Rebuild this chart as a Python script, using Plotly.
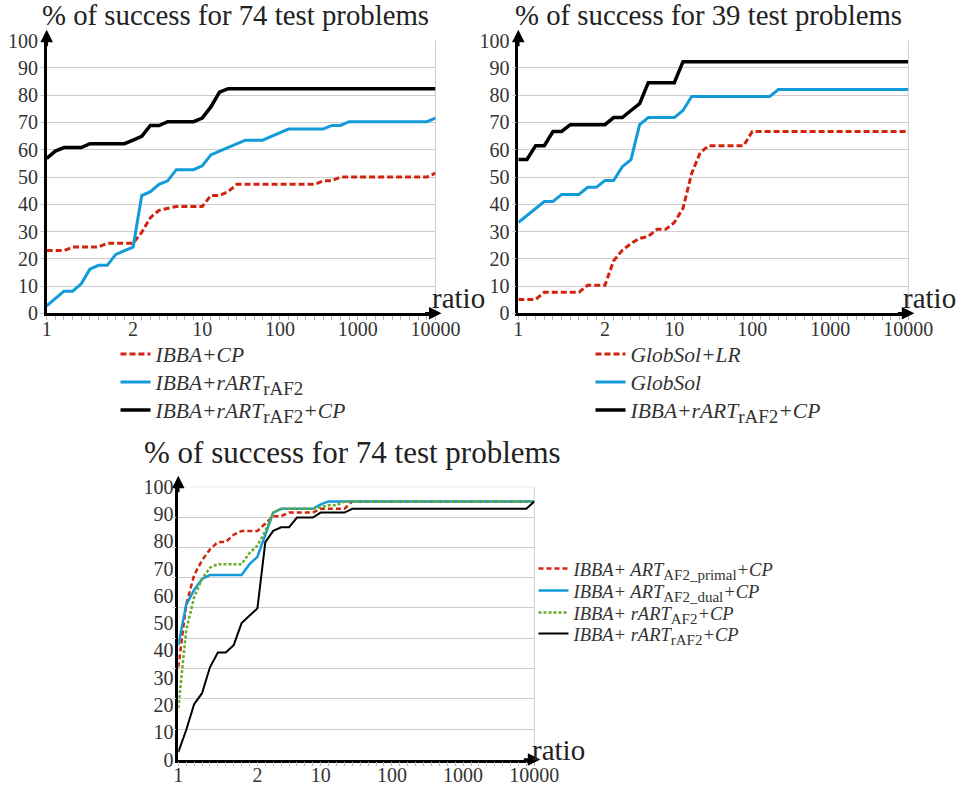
import plotly.graph_objects as go

# ---------------- data ----------------
# sample ratios (x): the axis places every sample at an equal step
RATIOS = [1.0, 1.1, 1.2, 1.3, 1.4, 1.5, 1.6, 1.7, 1.8, 1.9,
          2, 3, 4, 5, 6, 7, 8, 9,
          10, 20, 30, 40, 50, 60, 70, 80, 90,
          100, 200, 300, 400, 500, 600, 700, 800, 900,
          1000, 2000, 3000, 4000, 5000, 6000, 7000, 8000, 9000, 10000]
TICK_RATIOS = [1, 2, 10, 100, 1000, 10000]
TICK_LABELS = ["1", "2", "10", "100", "1000", "10000"]
Y_TICKS = [0, 10, 20, 30, 40, 50, 60, 70, 80, 90, 100]

# chart 1 : % of success for 74 test problems
c1_ibba_cp = [23.0, 23.0, 23.0, 24.3, 24.3, 24.3, 24.3, 25.7, 25.7, 25.7,
              25.7, 29.7, 35.1, 37.8, 38.5, 39.2, 39.2, 39.2, 39.2, 43.2,
              43.2, 44.6, 47.3, 47.3, 47.3, 47.3, 47.3, 47.3, 47.3, 47.3,
              47.3, 47.3, 48.6, 48.6, 50.0, 50.0, 50.0, 50.0, 50.0, 50.0,
              50.0, 50.0, 50.0, 50.0, 50.0, 51.4]
c1_ibba_rart = [2.7, 5.4, 8.1, 8.1, 10.8, 16.2, 17.6, 17.6, 21.6, 23.0,
                24.3, 43.2, 44.6, 47.3, 48.6, 52.7, 52.7, 52.7, 54.1, 58.1,
                59.5, 60.8, 62.2, 63.5, 63.5, 63.5, 64.9, 66.2, 67.6, 67.6,
                67.6, 67.6, 67.6, 68.9, 68.9, 70.3, 70.3, 70.3, 70.3, 70.3,
                70.3, 70.3, 70.3, 70.3, 70.3, 71.6]
c1_ibba_rart_cp = [56.8, 59.5, 60.8, 60.8, 60.8, 62.2, 62.2, 62.2, 62.2, 62.2,
                   63.5, 64.9, 68.9, 68.9, 70.3, 70.3, 70.3, 70.3, 71.6, 75.7,
                   81.1] + [82.4] * 25

# chart 2 : % of success for 39 test problems
c2_globsol_lr = [5.1, 5.1, 5.1, 7.7, 7.7, 7.7, 7.7, 7.7, 10.3, 10.3,
                 10.3, 19.3, 23.1, 25.6, 27.5, 28.2, 30.8, 30.8, 33.3, 38.5,
                 51.3, 59.0, 61.5, 61.5, 61.5, 61.5, 61.5, 66.7] + [66.7] * 18
c2_globsol = [33.3, 35.9, 38.5, 41.0, 41.0, 43.6, 43.6, 43.6, 46.2, 46.2,
              48.7, 48.7, 53.8, 56.4, 69.2, 71.8, 71.8, 71.8, 71.8, 74.4,
              79.5] + [79.5] * 9 + [82.1] * 16
c2_ibba_rart_cp = [56.4, 56.4, 61.5, 61.5, 66.7, 66.7, 69.2, 69.2, 69.2, 69.2,
                   69.2, 71.8, 71.8, 74.4, 76.9, 84.6, 84.6, 84.6, 84.6] + [92.3] * 27

# chart 3 : % of success for 74 test problems
c3_art_primal = [33.8, 56.8, 67.6, 73.0, 77.0, 79.7, 79.7, 82.4, 83.8, 83.8,
                 83.8, 86.5, 89.2, 89.2, 90.5, 90.5, 90.5, 90.5, 91.9, 91.9,
                 91.9, 91.9, 94.6] + [94.6] * 23
c3_art_dual = [41.9, 56.8, 62.2, 66.2, 67.6, 67.6, 67.6, 67.6, 67.6, 71.6,
               74.3, 82.4, 90.5, 91.9, 91.9, 91.9, 91.9, 91.9, 93.5, 94.6] + [94.6] * 26
c3_rart_af2 = [18.9, 47.3, 59.5, 66.2, 70.3, 71.6, 71.6, 71.6, 71.6, 75.7,
               78.4, 83.8, 90.5, 91.9, 91.9, 91.9, 91.9, 91.9, 92.5, 93.2,
               93.2, 94.6] + [94.6] * 24
c3_rart_raf2 = [2.7, 10.8, 20.3, 24.3, 33.8, 39.2, 39.2, 41.9, 50.0, 52.7,
                55.4, 79.7, 83.8, 85.1, 85.1, 88.7, 88.7, 88.7, 90.5, 90.5,
                90.5, 90.5, 91.9] + [91.9] * 22 + [94.6]

TITLES = ["% of success for 74 test problems",
          "% of success for 39 test problems",
          "% of success for 74 test problems"]

# ---------------- style ----------------
W, H = 963, 787
SERIF = "Liberation Serif"
RED, BLUE, GREEN, BLACK = "#d2230f", "#139ad8", "#6aab2b", "#000000"
GRID = "#cdcdcd"
TXT = "#333333"

cats = [f"{r:g}" for r in RATIOS]
tick_cats = [f"{r:g}" for r in TICK_RATIOS]
tick_text = [TICK_LABELS[tick_cats.index(c)] if c in tick_cats else "" for c in cats]


def px_x(p):
    return p / W


def px_y(p):
    return 1 - p / H


def sub(t, size):
    return f"<sub><span style='font-size:{size}px'>{t}</span></sub>"


# plot areas in pixels: (left, right, top(100), bottom(0))
AREAS = [(46.7, 435.5, 40.7, 313.3),
         (518.3, 908.3, 40.7, 313.3),
         (178.3, 534.3, 486.7, 759.5)]

S1, S3 = 19, 15
series = [
    (1, [
        (c1_ibba_cp, "<i>IBBA+CP</i>", RED, 3, "6px,3px"),
        (c1_ibba_rart, "<i>IBBA+rART</i>" + sub("rAF2", S1), BLUE, 3, "solid"),
        (c1_ibba_rart_cp, "<i>IBBA+rART</i>" + sub("rAF2", S1) + "<i>+CP</i>", BLACK, 3.5, "solid"),
    ]),
    (2, [
        (c2_globsol_lr, "<i>GlobSol+LR</i>", RED, 3, "6px,3px"),
        (c2_globsol, "<i>GlobSol</i>", BLUE, 3, "solid"),
        (c2_ibba_rart_cp, "<i>IBBA+rART</i>" + sub("rAF2", S1) + "<i>+CP</i>", BLACK, 3.5, "solid"),
    ]),
    (3, [
        (c3_art_primal, "<i>IBBA+ ART</i>" + sub("AF2_primal", S3) + "<i>+CP</i>", RED, 2.5, "5px,3px"),
        (c3_art_dual, "<i>IBBA+ ART</i>" + sub("AF2_dual", S3) + "<i>+CP</i>", BLUE, 2.5, "solid"),
        (c3_rart_af2, "<i>IBBA+ rART</i>" + sub("AF2", S3) + "<i>+CP</i>", GREEN, 2.5, "3px,2px"),
        (c3_rart_raf2, "<i>IBBA+ rART</i>" + sub("rAF2", S3) + "<i>+CP</i>", BLACK, 2, "solid"),
    ]),
]

# legend entry positions: (text start x, centre y) in pixels, and font size
LEG_POS = {1: ([(157, 354), (157, 382), (157, 410)], 21.5),
           2: ([(632, 354), (632, 382), (632, 410)], 21.5),
           3: ([(575, 569), (575, 591), (575, 613), (575, 634)], 18.5)}

fig = go.Figure()
layout = dict(
    width=W, height=H, autosize=False,
    margin=dict(l=0, r=0, t=0, b=0, pad=0, autoexpand=False),
    paper_bgcolor="white", plot_bgcolor="white",
    font=dict(family=SERIF, color=TXT, size=18),
    shapes=[], annotations=[],
)

leg_n = 0
for k, items in series:
    sx = "" if k == 1 else str(k)
    positions, fsize = LEG_POS[k]
    for j, (vals, name, col, w, dash) in enumerate(items):
        leg_n += 1
        lid = "legend" if leg_n == 1 else f"legend{leg_n}"
        fig.add_trace(go.Scatter(
            x=cats, y=vals, mode="lines", name=name,
            line=dict(color=col, width=w, dash=dash),
            xaxis="x" + sx, yaxis="y" + sx, legend=lid,
            showlegend=True, hoverinfo="skip"))
        tx, ty = positions[j]
        layout[lid] = dict(x=px_x(tx - 41.5), y=px_y(ty), xanchor="left", yanchor="middle",
                           bgcolor="rgba(0,0,0,0)", borderwidth=0, itemwidth=30,
                           font=dict(family=SERIF, size=fsize, color=TXT))

for k, (l, r, t, b) in enumerate(AREAS, start=1):
    sx = "" if k == 1 else str(k)
    layout["xaxis" + sx] = dict(
        domain=[px_x(l), px_x(r)], anchor="y" + sx, automargin=False,
        type="category", categoryorder="array", categoryarray=cats,
        range=[0, len(cats) - 1],
        tickmode="array", tickvals=cats, ticktext=tick_text,
        ticks="outside", ticklen=4, tickcolor="#b5b5b5", tickwidth=1,
        ticklabelstandoff=-8,
        showgrid=False, zeroline=False,
        showline=True, linecolor=BLACK, linewidth=2.5,
        tickfont=dict(family=SERIF, size=20, color=TXT), fixedrange=True,
    )
    yax = dict(
        domain=[px_y(b), px_y(t)], anchor="x" + sx, automargin=False,
        range=[0, 100], tickmode="array", tickvals=Y_TICKS,
        zeroline=False, showline=True, linecolor=BLACK, linewidth=2.5,
        ticklabelstandoff=-2,
        tickfont=dict(family=SERIF, size=20, color=TXT), fixedrange=True,
    )
    if k < 3:
        yax.update(showgrid=True, gridcolor=GRID, gridwidth=1,
                   ticks="outside", ticklen=4, tickcolor=GRID)
    else:
        yax.update(showgrid=False, ticks="",
                   minor=dict(tickvals=[100 * i / 9 for i in range(1, 9)],
                              showgrid=True, gridcolor=GRID, gridwidth=1,
                              ticks="outside", ticklen=4, tickcolor=GRID))
        layout["shapes"].append(dict(
            type="line", xref="x3 domain", yref="y3", x0=0, x1=1, y0=100, y1=100,
            line=dict(color=GRID, width=1), layer="below"))
    layout["yaxis" + sx] = yax

    # right border of the plot area
    layout["shapes"].append(dict(
        type="line", xref="x" + sx + " domain", yref="y" + sx + " domain",
        x0=1, x1=1, y0=0, y1=1, line=dict(color=GRID, width=1), layer="below"))

    wpx, hpx = r - l, b - t
    # axis arrows
    layout["annotations"].append(dict(
        xref="x" + sx + " domain", yref="y" + sx + " domain",
        x=1 + 6 / wpx, y=0, ax=-18, ay=0, axref="pixel", ayref="pixel",
        text="", showarrow=True, arrowhead=2, arrowsize=1, arrowwidth=2.5,
        arrowcolor=BLACK))
    layout["annotations"].append(dict(
        xref="x" + sx + " domain", yref="y" + sx + " domain",
        x=0, y=1 + 11 / hpx, ax=0, ay=18, axref="pixel", ayref="pixel",
        text="", showarrow=True, arrowhead=2, arrowsize=1, arrowwidth=2.5,
        arrowcolor=BLACK))

# titles
for (cx, cy, fs), txt in zip([(235, 15, 28.8), (708, 15, 28.8), (352, 452, 31)], TITLES):
    layout["annotations"].append(dict(
        xref="paper", yref="paper", x=px_x(cx), y=px_y(cy), text=txt,
        showarrow=False, xanchor="center", yanchor="middle",
        font=dict(family=SERIF, size=fs, color="#222222")))

# "ratio" labels
for (lx, ly) in [(430, 298), (901, 298), (530, 750)]:
    layout["annotations"].append(dict(
        xref="paper", yref="paper", x=px_x(lx), y=px_y(ly), text="ratio",
        showarrow=False, xanchor="left", yanchor="middle",
        font=dict(family=SERIF, size=29, color="#222222")))

fig.update_layout(**layout)

fig.write_html("out.html", config={"displayModeBar": False},
               post_script="document.body.style.margin='0';document.body.style.overflow='hidden';")
